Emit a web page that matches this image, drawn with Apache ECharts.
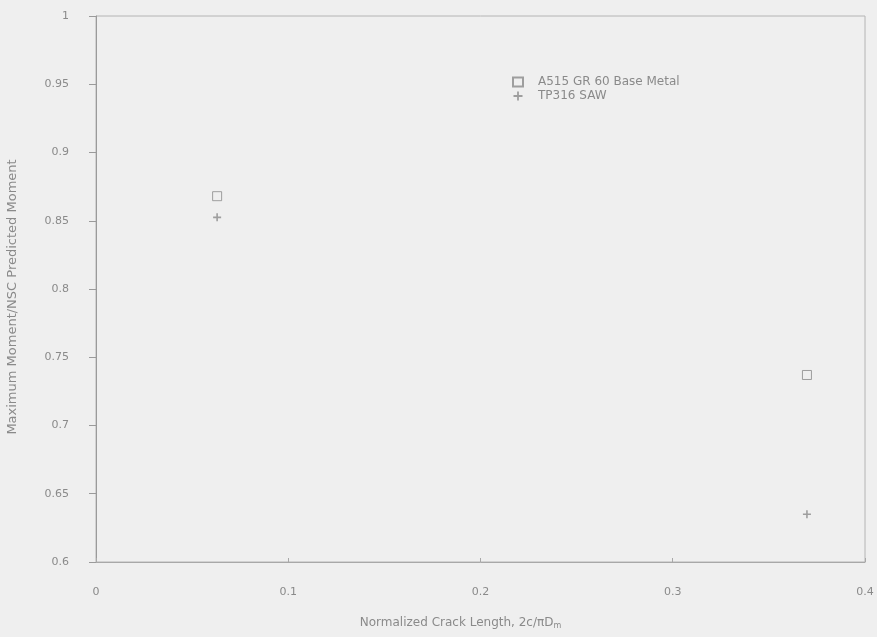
<!DOCTYPE html>
<html><head><meta charset="utf-8">
<script src="https://cdn.jsdelivr.net/npm/echarts@6/dist/echarts.min.js"></script>
<style>html,body{margin:0;padding:0;background:#efefef}#c{width:877px;height:637px}</style>
</head><body><div id="c"></div>
<script>
const baseMetalX = [0.063, 0.3698];
const baseMetalY = [0.868, 0.737];
const sawX = [0.063, 0.3698];
const sawY = [0.8525, 0.635];
const seriesNames = ['A515 GR 60 Base Metal', 'TP316 SAW'];
const xTicks = [0, 0.1, 0.2, 0.3, 0.4];
const yTicks = [0.6, 0.65, 0.7, 0.75, 0.8, 0.85, 0.9, 0.95, 1];

const txt = '#8a8a8a';
const font = 'DejaVu Sans';
const chart = echarts.init(document.getElementById('c'));
chart.setOption({
  backgroundColor: '#efefef',
  animation: false,
  grid: {left: 96, right: 12, top: 16, bottom: 75, outerBoundsMode: 'none', containLabel: false,
    show: true, borderColor: '#b4b4b4', borderWidth: 1},
  legend: {
    top: 71, left: 507, orient: 'vertical', itemGap: 2, itemWidth: 10, itemHeight: 9,
    textStyle: {color: txt, fontFamily: font, fontSize: 12, padding: [0, 0, 0, 10]},
    data: [{name: seriesNames[0], icon: 'rect'}, {name: seriesNames[1]}]
  },
  xAxis: {
    type: 'value', min: 0, max: 0.4, interval: 0.1,
    name: 'Normalized Crack Length, 2c/πD{s|m}', nameLocation: 'middle', nameGap: 53,
    nameTextStyle: {color: txt, fontFamily: font, fontSize: 12, padding: [0, 40, 0, 0],
      rich: {s: {fontSize: 8, fontFamily: font, padding: [7, 0, 0, 0], color: txt}}},
    axisLine: {show: true, lineStyle: {color: '#a8a8a8'}},
    axisTick: {show: true, inside: true, length: 4, lineStyle: {color: '#a8a8a8'}},
    axisLabel: {color: txt, fontFamily: font, fontSize: 11, margin: 25,
      formatter: v => xTicks.includes(+v.toFixed(2)) ? String(+v.toFixed(2)) : ''},
    splitLine: {show: false}
  },
  yAxis: {
    type: 'value', min: 0.6, max: 1, interval: 0.05,
    name: 'Maximum Moment/NSC Predicted Moment', nameLocation: 'middle', nameGap: 77,
    nameTextStyle: {color: txt, fontFamily: font, fontSize: 13, padding: [0, 16, 0, 0]},
    axisLine: {show: true, lineStyle: {color: '#9a9a9a'}},
    axisTick: {show: true, length: 7, lineStyle: {color: '#9a9a9a'}},
    axisLabel: {color: txt, fontFamily: font, fontSize: 11, margin: 27,
      formatter: v => { const r = +v.toFixed(2); return yTicks.includes(r) ? String(r) : ''; }},
    splitLine: {show: false}
  },
  series: [
    {name: seriesNames[0], type: 'scatter', symbol: 'rect', symbolSize: 9,
      itemStyle: {color: 'transparent', borderColor: '#8a8a8a', borderWidth: 1},
      data: baseMetalX.map((x, i) => [x, baseMetalY[i]])},
    {name: seriesNames[1], type: 'scatter',
      symbol: 'path://M4,0H6V4H10V6H6V10H4V6H0V4H4Z', symbolSize: 8,
      itemStyle: {color: '#8a8a8a'},
      data: sawX.map((x, i) => [x, sawY[i]])}
  ]
});
</script></body></html>
